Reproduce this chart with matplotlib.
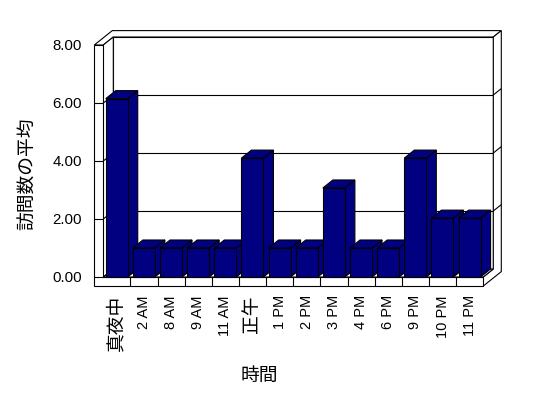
import numpy as np
import matplotlib
matplotlib.use("Agg")
import matplotlib.pyplot as plt
from matplotlib.patches import Polygon

plt.rcParams['font.family'] = ['Liberation Sans', 'Noto Sans CJK JP']

# data
hours = ["真夜中", "2 AM", "8 AM", "9 AM", "11 AM", "正午", "1 PM", "2 PM",
         "3 PM", "4 PM", "6 PM", "9 PM", "10 PM", "11 PM"]
visits = [6.15, 1.0, 1.0, 1.0, 1.0, 4.1, 1.0, 1.0, 3.07, 1.0, 1.0, 4.1, 2.03, 2.03]
y_ticks = [0, 2, 4, 6, 8]
x_title = "時間"
y_title = "訪問数の平均"

navy = "#000080"
W, H = 548, 398
# front plane of the 3d box, in pixels
left_px, right_px, top_px, bottom_px = 103.3, 483.3, 45, 277

fig = plt.figure(figsize=(W / 100, H / 100), dpi=100)
ax = fig.add_axes([left_px / W, 1 - bottom_px / H,
                   (right_px - left_px) / W, (bottom_px - top_px) / H])
n = len(hours)
ymax = y_ticks[-1]
ax.set_xlim(0, n)
ax.set_ylim(0, ymax)

px_x = (right_px - left_px) / n
px_y = (bottom_px - top_px) / ymax
ddx, ddy = 10 / px_x, 8 / px_y   # one unit of depth
wall = 9 / px_x                  # left wall thickness
floor = 9 / px_y                 # floor thickness
back = 1.8                       # depth of back wall outer side


def pt(x, v, d):
    return (x + d * ddx, v + d * ddy)


def face(pts, z=1, fc='white'):
    ax.add_patch(Polygon(pts, closed=True, fc=fc, ec='black', lw=0.8,
                         zorder=z, clip_on=False))


def line(p, q, z=1.5):
    ax.plot([p[0], q[0]], [p[1], q[1]], color='black', lw=0.8,
            zorder=z, clip_on=False, solid_capstyle='butt')


# walls and floor
face([pt(0, 0, 1), pt(n, 0, 1), pt(n, ymax, 1), pt(0, ymax, 1)])
face([pt(-wall, ymax, 0), pt(0, ymax, 0), pt(0, ymax, 1), pt(n, ymax, 1),
      pt(n, ymax, back), pt(-wall, ymax, back)])
face([pt(n, -floor, 0), pt(n, -floor, back), pt(n, ymax, back), pt(n, ymax, 1),
      pt(n, 0, 1), pt(n, 0, 0)])
face([pt(0, 0, 0), pt(0, 0, 1), pt(0, ymax, 1), pt(0, ymax, 0)])
face([pt(0, 0, 0), pt(n, 0, 0), pt(n, 0, 1), pt(0, 0, 1)])
face([pt(-wall, -floor, 0), pt(n, -floor, 0), pt(n, 0, 0), pt(0, 0, 0),
      pt(0, ymax, 0), pt(-wall, ymax, 0)])

# gridlines
for v in y_ticks[:-1]:
    line(pt(-wall, v, 0), pt(0, v, 0))
    if v > 0:
        line(pt(0, v, 0), pt(0, v, 1))
        line(pt(0, v, 1), pt(n, v, 1))
        line(pt(n, v, 1), pt(n, v, back))
for i in range(1, n):
    line(pt(i, -floor, 0), pt(i, 0, 0))

# bars
bw = 0.81
x0 = np.arange(n) + 0.09
ax.bar(x0, visits, width=bw, align='edge', color=navy, edgecolor='black',
       lw=0.8, zorder=3, clip_on=False)
for xl, v in zip(x0, visits):
    xr = xl + bw
    face([pt(xr, 0, 0), pt(xr, 0, 1), pt(xr, v, 1), pt(xr, v, 0)], z=2, fc=navy)
    face([pt(xl, v, 0), pt(xr, v, 0), pt(xr, v, 1), pt(xl, v, 1)], z=2, fc=navy)

# axes text
ax.patch.set_visible(False)
for s in ax.spines.values():
    s.set_visible(False)
ax.set_yticks(y_ticks)
ax.set_yticklabels([f"{v:.2f}" for v in y_ticks], fontsize=10.8)
ax.set_xticks(np.arange(n) + 0.5)
ax.set_xticklabels(hours, rotation=90, fontsize=10.5)
for lab in ax.get_xticklabels():
    if not lab.get_text()[0].isascii():
        lab.set_fontsize(13.5)
ax.tick_params(axis='y', length=0, pad=15.3)
ax.tick_params(axis='x', length=0, pad=13)

ax.set_xlabel(x_title, fontsize=13.5)
ax.xaxis.label.set(ha='center', va='center')
ax.xaxis.set_label_coords((259 - left_px) / (right_px - left_px),
                          (bottom_px - 376) / (bottom_px - top_px))
ax.set_ylabel(y_title, fontsize=13.5)
ax.yaxis.label.set(ha='center', va='center', rotation_mode='default')
ax.yaxis.set_label_coords((28.5 - left_px) / (right_px - left_px),
                          (bottom_px - 174) / (bottom_px - top_px))

fig.savefig("out.png", dpi=100)
